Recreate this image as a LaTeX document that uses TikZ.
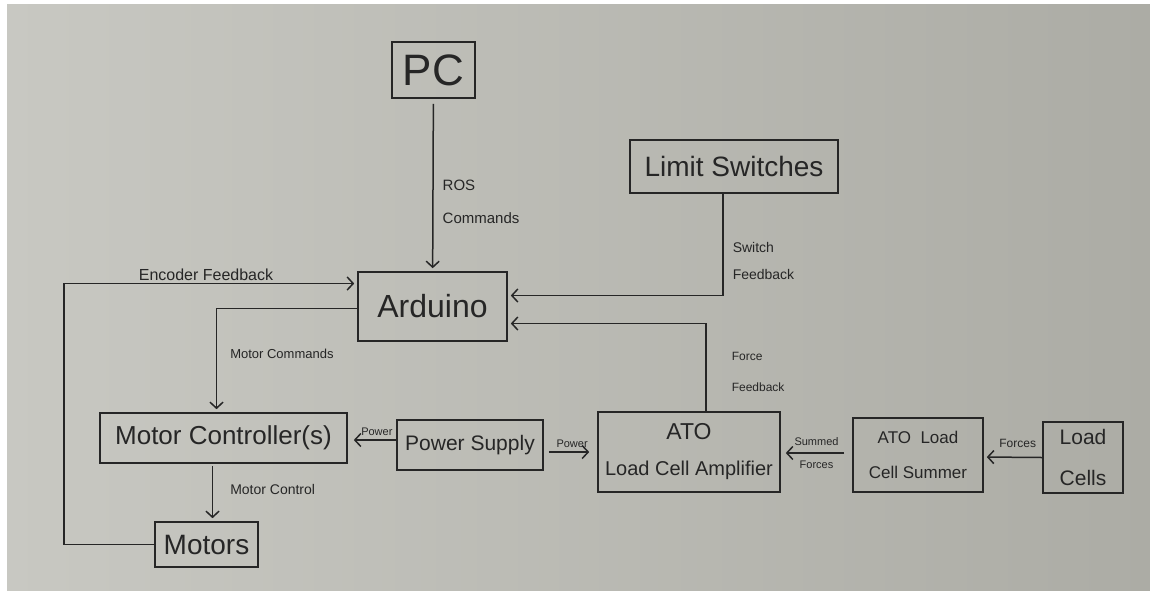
\documentclass[tikz,border=0pt]{standalone}
\usepackage{fontspec}
\setmainfont{Liberation Sans}
\usetikzlibrary{arrows.meta,positioning,calc}

\definecolor{paper}{RGB}{200,200,194}
\definecolor{paperdark}{RGB}{172,172,165}
\definecolor{ink}{RGB}{38,38,38}
\newcommand{\fsz}[2]{\fontsize{#1}{#2}\selectfont}

\begin{document}
\begin{tikzpicture}[x=1pt, y=-1pt,
  box/.style={draw=ink, line width=1.6pt, inner sep=0pt, align=center, text=ink},
  arr/.style={draw=ink, line width=1.5pt, -{Straight Barb[length=6pt,width=13pt]},
    shorten >=3pt},
  lbl/.style={text=ink, align=left, inner sep=1pt}
]
  % sheet of paper
  \fill[white] (0,0) rectangle (1150,590);
  \shade[left color=paper, right color=paperdark] (7,4) rectangle (1150,590);
  \useasboundingbox (0,0) rectangle (1150,590);

  % blocks
  \node[box, minimum width=83, minimum height=56, font=\fsz{44}{50}] (pc) at (433.5,70) {PC};
  \node[box, minimum width=208, minimum height=53, font=\fsz{28}{32}] (lim) at (734,166.5) {Limit Switches};
  \node[box, minimum width=149, minimum height=69, font=\fsz{32}{36}] (ard) at (432.5,306.5) {Arduino};
  \node[box, minimum width=247, minimum height=50, font=\fsz{26}{30}] (mc) at (223.5,438) {Motor Controller(s)};
  \node[box, minimum width=103, minimum height=45, font=\fsz{28}{32}] (mot) at (206.5,544.5) {Motors};
  \node[box, minimum width=146, minimum height=50, font=\fsz{21}{25}] (ps) at (470,445) {Power Supply};
  \node[box, minimum width=182, minimum height=80, font=\fsz{20}{36}] (amp) at (689,452)
    {\fsz{23}{36}ATO\\Load Cell Amplifier};
  \node[box, minimum width=130, minimum height=74, font=\fsz{17}{35}] (sum) at (918,455)
    {ATO~~Load\\Cell Summer};
  \node[box, minimum width=80, minimum height=71, font=\fsz{21}{41}] (cells) at (1083,457.5)
    {Load\\Cells};

  % signals into the Arduino
  \draw[arr, shorten <=5pt] (pc) -- (ard)
    node[pos=0.6, right=8pt, lbl, font=\fsz{15}{33}] {ROS\\Commands};
  \draw[arr] ([xshift=-11pt]lim.south) |- ([yshift=11pt]ard.east)
    node[pos=0.33, right=8pt, lbl, font=\fsz{14}{27}] {Switch\\Feedback};
  \draw[arr] ([xshift=17pt]amp.north) |- ([yshift=-17pt]ard.east)
    node[pos=0.226, right=24pt, lbl, font=\fsz{12}{31}] {Force\\Feedback};
  \draw[arr] (mot.west) -- ++(-90,0)
    |- node[pos=0.742, above=1pt, lbl, font=\fsz{16}{18}] {Encoder Feedback}
    ([yshift=23pt]ard.west);

  % motor side
  \draw[arr] ([yshift=-2pt]ard.west) -| node[pos=0.72, right=12pt, lbl, font=\fsz{13}{15}] {Motor Commands}
    ([xshift=-7pt]mc.north);
  \draw[arr, shorten <=2pt] ([xshift=-11pt]mc.south) -- ([xshift=6pt]mot.north)
    node[pos=0.44, right=16pt, lbl, font=\fsz{14}{16}] {Motor Control};

  % power
  \draw[arr, shorten >=6pt] ([yshift=5pt]ps.west) -- ([yshift=-2pt]mc.east)
    node[pos=0.4, above=3pt, lbl, font=\fsz{11}{13}] {Power};
  \draw[arr, shorten <=5pt, shorten >=8pt] ([yshift=-7pt]ps.east) -- (amp.west)
    node[pos=0.53, above=3pt, lbl, font=\fsz{11}{13}] {Power};

  % load cell chain
  \draw[arr, shorten <=8pt, shorten >=5pt] ([yshift=2pt]sum.west) -- ([yshift=-1pt]amp.east)
    node[midway, above=6pt, lbl, font=\fsz{11}{13}] {Summed}
    node[midway, below=6pt, lbl, font=\fsz{11}{13}] {Forces};
  \draw[arr] (cells.west) -- ([yshift=-2pt]sum.east)
    node[pos=0.42, above=8pt, lbl, font=\fsz{12}{14}] {Forces};
\end{tikzpicture}
\end{document}
